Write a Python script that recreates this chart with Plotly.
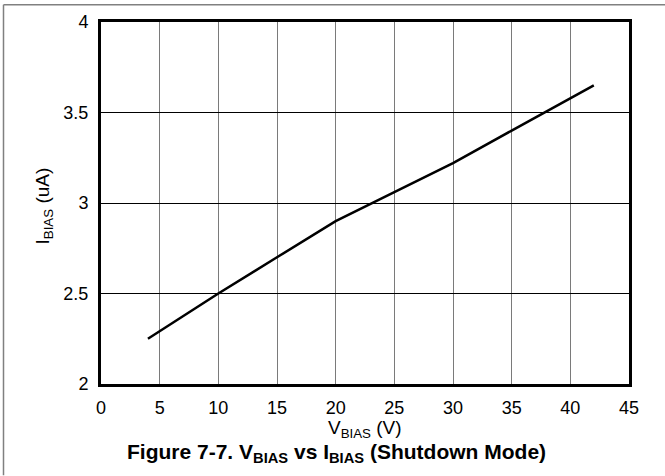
import plotly.graph_objects as go

v_bias = [4, 10, 15, 20, 25, 30, 35, 40, 42]
i_bias = [2.25, 2.5, 2.7, 2.9, 3.06, 3.22, 3.40, 3.58, 3.65]
x_ticks = [0, 5, 10, 15, 20, 25, 30, 35, 40, 45]
y_ticks = [2, 2.5, 3, 3.5, 4]

W, H = 665, 476
L, R, T, B = 101, 629, 19, 384

FAM = "Liberation Sans, Arial, sans-serif"
tick_font = dict(family=FAM, size=18, color="black")
title_font = dict(family=FAM, size=19, color="black")

fig = go.Figure()
fig.add_trace(go.Scatter(x=v_bias, y=i_bias, mode="lines",
                         line=dict(color="black", width=2.5), showlegend=False))

fig.update_layout(
    width=W, height=H,
    margin=dict(l=L, r=W - R, t=T, b=H - B),
    paper_bgcolor="white", plot_bgcolor="white",
    font=tick_font,
    xaxis=dict(range=[0, 45], tickvals=x_ticks, showgrid=True, gridcolor="#7a7a7a",
               gridwidth=1, zeroline=False, showline=True, linecolor="black",
               linewidth=3, mirror=True, ticks="outside", ticklen=5,
               tickcolor="rgba(0,0,0,0)", tickfont=tick_font),
    yaxis=dict(range=[2, 4], tickvals=y_ticks, showgrid=True, gridcolor="black",
               gridwidth=1, zeroline=False, showline=True, linecolor="black",
               linewidth=3, mirror=True, ticks="outside", ticklen=6,
               tickcolor="rgba(0,0,0,0)", tickfont=tick_font),
)

def px(xp):
    return (xp - L) / (R - L)

def py(yp):
    return (B - yp) / (B - T)

fig.add_annotation(text="V<sub>BIAS</sub> (V)", xref="paper", yref="paper",
                   x=px(365), y=py(429), showarrow=False, font=title_font,
                   xanchor="center", yanchor="middle")
fig.add_annotation(text="I<sub>BIAS</sub> (uA)", xref="paper", yref="paper",
                   x=px(44), y=py(205), showarrow=False, font=title_font, textangle=-90,
                   xanchor="center", yanchor="middle")
fig.add_annotation(text="<b>Figure 7-7. V<sub>BIAS</sub> vs I<sub>BIAS</sub> (Shutdown Mode)</b>",
                   xref="paper", yref="paper", x=px(336), y=py(454), showarrow=False,
                   font=dict(family=FAM, size=21, color="black"),
                   xanchor="center", yanchor="middle")

# outer frame (left and top edges visible)
fig.add_shape(type="line", xref="paper", yref="paper",
              x0=px(3.5), x1=px(3.5), y0=py(476), y1=py(1.5),
              line=dict(color="#808080", width=1.5), layer="below")
fig.add_shape(type="line", xref="paper", yref="paper",
              x0=px(3.5), x1=px(665), y0=py(1.5), y1=py(1.5),
              line=dict(color="#808080", width=1.5), layer="below")

fig.write_html("out.html", config={"displayModeBar": False},
               post_script="document.body.style.margin='0px';document.body.style.overflow='hidden';")
